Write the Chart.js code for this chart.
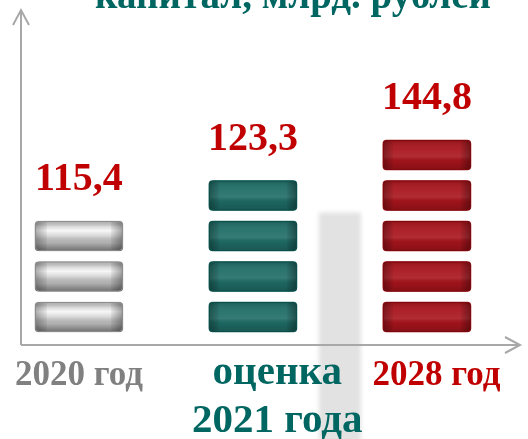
<!DOCTYPE html>
<html>
<head>
<meta charset="utf-8">
<script src="https://cdn.jsdelivr.net/npm/chart.js@4.4.0/dist/chart.umd.min.js"></script>
<style>
  html, body { margin: 0; padding: 0; background: #fff; }
  #wrap { width: 528px; height: 439px; position: relative; }
</style>
</head>
<body>
<div id="wrap"><canvas id="capChart"></canvas></div>
<script>
// data
const categories = ['2020 год', ['оценка', '2021 года'], '2028 год'];
const values = [115.4, 123.3, 144.8];
const blockCounts = [3, 4, 5];
const titleText = 'капитал, млрд. рублей';

// styling per category
const labelColors = ['#808080', '#006661', '#c00000'];
const labelSizes = [35, 41, 35];
const labelLineHeights = [1.47, 1.16, 1.47];
const labelShift = [0, 0.14, 0.055];   // labels sit a bit right of the columns
const blockBase = ['#c9c9c9', '#1f6c66', '#a8141c'];
const blockEdge = ['#8c8c8c', '#0b4f4a', '#7e0a0e'];
const serif = '"Liberation Serif", "Times New Roman", serif';

// one dataset per block layer, each block a floating bar
const maxBlocks = Math.max(...blockCounts);
const datasets = [];
for (let k = 0; k < maxBlocks; k++) {
    const data = [];
    blockCounts.forEach((c, i) => {
        if (c > k) data.push({ x: i, y: [k, k + 0.74] });
    });
    datasets.push({
        data: data,
        backgroundColor: ctx => blockBase[ctx.raw ? ctx.raw.x : 0],
        borderWidth: 0,
        borderRadius: 4,
        borderSkipped: false,
        grouped: false,
        barThickness: 88
    });
}

// soft grey band between the 2nd and 3rd column
const bandPlugin = {
    id: 'band',
    beforeDraw(chart) {
        const { ctx, scales } = chart;
        const cx = scales.x.getPixelForValue(1.5);
        const top = scales.y.getPixelForValue(2.95);
        ctx.save();
        ctx.filter = 'blur(2px)';
        ctx.fillStyle = '#e2e2e2';
        ctx.fillRect(cx - 21, top, 42, chart.height - top + 10);
        ctx.restore();
    }
};

// bevel shading on each block + value labels
const blockPlugin = {
    id: 'blocks',
    afterDatasetsDraw(chart) {
        const ctx = chart.ctx;
        const tops = {};
        chart.data.datasets.forEach((ds, d) => {
            chart.getDatasetMeta(d).data.forEach((el, j) => {
                const cat = ds.data[j].x;
                const p = el.getProps(['x', 'y', 'base', 'width'], true);
                const l = p.x - p.width / 2, r = p.x + p.width / 2;
                const t = Math.min(p.y, p.base), b = Math.max(p.y, p.base);
                const h = b - t, w = r - l;
                if (tops[cat] === undefined || t < tops[cat]) tops[cat] = t;
                ctx.save();
                ctx.beginPath();
                ctx.roundRect(l, t, w, h, 4);
                ctx.clip();
                const g = ctx.createLinearGradient(0, t, 0, b);
                if (cat === 0) {
                    g.addColorStop(0, 'rgba(0,0,0,0.08)');
                    g.addColorStop(0.18, 'rgba(255,255,255,0.3)');
                    g.addColorStop(0.32, 'rgba(255,255,255,0.85)');
                    g.addColorStop(0.5, 'rgba(255,255,255,0.25)');
                    g.addColorStop(0.72, 'rgba(0,0,0,0.12)');
                    g.addColorStop(1, 'rgba(0,0,0,0.45)');
                } else {
                    g.addColorStop(0, 'rgba(0,0,0,0.12)');
                    g.addColorStop(0.3, 'rgba(255,255,255,0.06)');
                    g.addColorStop(0.55, 'rgba(255,255,255,0.1)');
                    g.addColorStop(0.7, 'rgba(0,0,0,0.06)');
                    g.addColorStop(1, 'rgba(0,0,0,0.2)');
                }
                ctx.fillStyle = g;
                ctx.fillRect(l, t, w, h);
                // darker ends
                const e = cat === 0 ? 12 : 10;
                const gl = ctx.createLinearGradient(l, 0, l + e, 0);
                gl.addColorStop(0, 'rgba(0,0,0,0.3)');
                gl.addColorStop(1, 'rgba(0,0,0,0.05)');
                ctx.fillStyle = gl;
                ctx.fillRect(l, t, e, h);
                const gr = ctx.createLinearGradient(r - e, 0, r, 0);
                gr.addColorStop(0, 'rgba(0,0,0,0.05)');
                gr.addColorStop(1, 'rgba(0,0,0,0.35)');
                ctx.fillStyle = gr;
                ctx.fillRect(r - e, t, e, h);
                ctx.restore();
                ctx.save();
                ctx.strokeStyle = blockEdge[cat];
                ctx.lineWidth = 1;
                ctx.beginPath();
                ctx.roundRect(l + 0.5, t + 0.5, w - 1, h - 1, 4);
                ctx.stroke();
                ctx.restore();
            });
        });
        // value labels above each column
        ctx.save();
        ctx.font = 'bold 40px ' + serif;
        ctx.fillStyle = '#c00000';
        ctx.textAlign = 'center';
        ctx.textBaseline = 'alphabetic';
        values.forEach((v, i) => {
            const x = chart.scales.x.getPixelForValue(i);
            ctx.fillText(v.toFixed(1).replace('.', ','), x, tops[i] - 31);
        });
        ctx.restore();
    }
};

// arrows for the axes and the clipped title
const axesPlugin = {
    id: 'arrows',
    afterDraw(chart) {
        const { ctx, chartArea } = chart;
        const x0 = chartArea.left, y0 = chartArea.bottom;
        const yTip = chartArea.top, xTip = chartArea.right;
        ctx.save();
        ctx.strokeStyle = '#a8a8a8';
        ctx.lineWidth = 2;
        ctx.beginPath();
        ctx.moveTo(x0, y0);
        ctx.lineTo(x0, yTip);
        ctx.moveTo(x0 - 8, yTip + 15);
        ctx.lineTo(x0, yTip);
        ctx.lineTo(x0 + 8, yTip + 15);
        ctx.moveTo(x0, y0);
        ctx.lineTo(xTip, y0);
        ctx.moveTo(xTip - 15, y0 - 8);
        ctx.lineTo(xTip, y0);
        ctx.lineTo(xTip - 15, y0 + 8);
        ctx.stroke();
        ctx.restore();

        ctx.save();
        ctx.font = 'bold 39px ' + serif;
        ctx.fillStyle = '#006661';
        ctx.textAlign = 'center';
        ctx.textBaseline = 'alphabetic';
        ctx.fillText(titleText, 293, 8);
        ctx.restore();
    }
};

const chart = new Chart(document.getElementById('capChart').getContext('2d'), {
    type: 'bar',
    data: { datasets: datasets },
    options: {
        responsive: true,
        maintainAspectRatio: false,
        animation: false,
        layout: { padding: { left: 21, right: 8, top: 10, bottom: 0 } },
        plugins: { legend: { display: false }, tooltip: { enabled: false }, title: { display: false } },
        scales: {
            x: {
                type: 'linear',
                offset: false,
                min: -0.333,
                max: 2.535,
                grid: { display: false, drawTicks: false },
                border: { display: false },
                afterBuildTicks: scale => {
                    scale.ticks = categories.map((c, i) => ({ value: i + labelShift[i] }));
                },
                afterFit: scale => { scale.height = 94; },
                ticks: {
                    autoSkip: false,
                    maxRotation: 0,
                    padding: 5,
                    callback: (value, index) => categories[index],
                    color: ctx => labelColors[ctx.index],
                    font: ctx => ({
                        family: serif,
                        size: labelSizes[ctx.index],
                        weight: 'bold',
                        lineHeight: labelLineHeights[ctx.index]
                    })
                }
            },
            y: {
                display: false,
                min: -0.32,
                max: 7.95
            }
        }
    },
    plugins: [bandPlugin, blockPlugin, axesPlugin]
});
</script>
</body>
</html>
